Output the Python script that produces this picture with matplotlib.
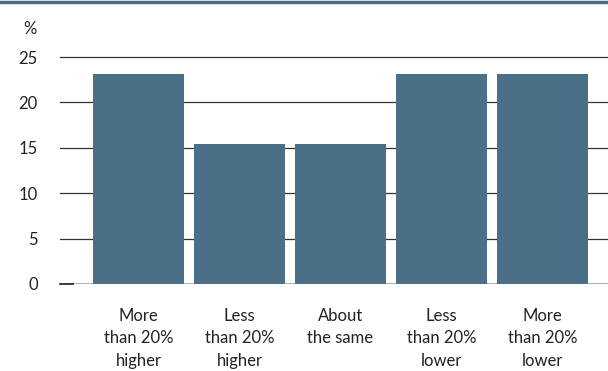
import matplotlib
matplotlib.use("Agg")
import matplotlib.pyplot as plt
from matplotlib.lines import Line2D

plt.rcParams['font.family'] = ['Lato', 'DejaVu Sans']

# data
categories = ["More\nthan 20%\nhigher", "Less\nthan 20%\nhigher", "About\nthe same",
              "Less\nthan 20%\nlower", "More\nthan 20%\nlower"]
values = [23.1, 15.4, 15.4, 23.1, 23.1]
yticks = [0, 5, 10, 15, 20, 25]

bar_color = '#4a6f87'

fig = plt.figure(figsize=(6.08, 3.71), dpi=100)
ax = fig.add_axes([60 / 608, (371 - 284) / 371, 1 - 60 / 608, (284 - 57) / 371])

x = list(range(len(categories)))
for y in yticks[1:]:
    ax.axhline(y, color='#333333', lw=0.9, zorder=1, clip_on=False)
ax.axhline(0, color='#a0a0a0', lw=1.2, zorder=1)
ax.plot([-0.777, -0.65], [0, 0], color='#222222', lw=1.2, zorder=2, clip_on=False)

ax.bar(x, values, width=0.9, color=bar_color, zorder=3)

ax.set_xlim(-0.777, 4.649)
ax.set_ylim(0, 25)
ax.set_yticks(yticks)
ax.set_yticklabels([str(t) for t in yticks], fontsize=12, color='#222222')
ax.tick_params(axis='y', length=0, pad=16)
ax.set_xticks(x)
ax.set_xticklabels(categories, fontsize=12, color='#222222', linespacing=1.5)
ax.tick_params(axis='x', length=0, pad=17)
for s in ax.spines.values():
    s.set_visible(False)

fig.text(30 / 608, 1 - 29 / 371, '%', fontsize=12, color='#222222', ha='center', va='center')
fig.add_artist(Line2D([0, 1], [1 - 1.5 / 371, 1 - 1.5 / 371], color=bar_color, lw=2.5))

fig.savefig('out.png', dpi=100)
